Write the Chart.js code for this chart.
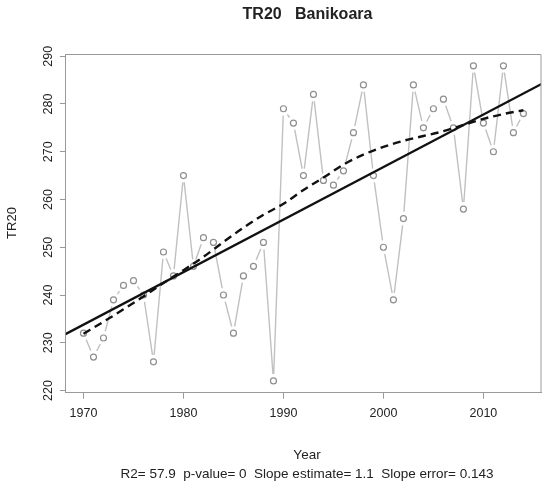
<!DOCTYPE html>
<html><head><meta charset="utf-8">
<script src="https://cdn.jsdelivr.net/npm/chart.js@4/dist/chart.umd.min.js"></script>
<style>
html,body{margin:0;padding:0;background:#fff;overflow:hidden;width:542px;height:483px}
#wrap{position:relative;width:552px;height:483px}
canvas{display:block}
</style>
</head><body><div id="wrap"><canvas id="c" width="552" height="483" style="width:552px;height:483px"></canvas></div>
<script>
// ---- data ----
const years = [1970,1971,1972,1973,1974,1975,1976,1977,1978,1979,
               1980,1981,1982,1983,1984,1985,1986,1987,1988,1989,
               1990,1991,1992,1993,1994,1995,1996,1997,1998,1999,
               2000,2001,2002,2003,2004,2005,2006,2007,2008,2009,
               2010,2011,2012,2013,2014];
const tr20 = [232,227,231,239,242,243,240,226,249,244,
              265,246,252,251,240,232,244,246,251,222,
              279,276,265,282,264,263,266,274,284,265,
              250,239,256,284,275,279,281,275,258,288,
              276,270,288,274,278];
const loessYears = [1970,1972,1974,1976,1978,1980,1982,1984,1986,1988,1990,1992,
                    1994,1996,1998,2000,2002,2004,2006,2008,2010,2012,2014];
const loessValues = [231.9,234.4,237.0,239.7,242.5,245.2,248.0,251.1,254.1,256.8,259.1,262.0,
                     264.6,267.3,269.4,271.0,272.3,273.3,274.3,275.6,276.9,277.9,278.7];
const trendYears = [1968, 2016];
const trendValues = [231.6, 284.4];
const xTickValues = [1970,1980,1990,2000,2010];
const yTickValues = [220,230,240,250,260,270,280,290];
const chartTitle = 'TR20   Banikoara';
const xTitle = 'Year';
const yTitle = 'TR20';
const subTitle = 'R2= 57.9  p-value= 0  Slope estimate= 1.1  Slope error= 0.143';

const pts = (xs, ys) => xs.map((x, i) => ({x: x, y: ys[i]}));
const FONT = "'Liberation Sans', Arial, sans-serif";
const AXIS_GRAY = '#9a9a9a';
const TEXT = '#222';

const boxAndText = {
  id: 'boxAndText',
  afterDraw(chart) {
    const ctx = chart.ctx, a = chart.chartArea;
    ctx.save();
    ctx.strokeStyle = AXIS_GRAY;
    ctx.lineWidth = 1;
    ctx.beginPath();
    ctx.moveTo(a.left, a.top + 0.5);
    ctx.lineTo(a.right, a.top + 0.5);
    ctx.lineTo(a.right, a.bottom);
    ctx.stroke();
    ctx.fillStyle = TEXT;
    ctx.textAlign = 'center';
    ctx.textBaseline = 'middle';
    ctx.font = 'bold 16px ' + FONT;
    ctx.fillText(chartTitle, 307.5, 15);
    ctx.font = '13.5px ' + FONT;
    ctx.fillText(xTitle, 307, 455);
    ctx.font = '13.5px ' + FONT;
    ctx.fillText(subTitle, 307, 474);
    ctx.translate(12, 223);
    ctx.rotate(-Math.PI / 2);
    ctx.font = '13px ' + FONT;
    ctx.fillText(yTitle, 0, 0);
    ctx.restore();
  }
};

new Chart(document.getElementById('c'), {
  type: 'scatter',
  data: {
    datasets: [
      { label: 'trend', data: pts(trendYears, trendValues), showLine: true,
        borderColor: '#111', borderWidth: 2.4, pointRadius: 0, order: 1 },
      { label: 'loess', data: pts(loessYears, loessValues), showLine: true,
        borderColor: '#111', borderWidth: 2.4, borderDash: [8, 5], pointRadius: 0,
        tension: 0.4, cubicInterpolationMode: 'monotone', order: 2 },
      { label: 'points', data: pts(years, tr20), showLine: false,
        pointRadius: 3, pointBorderWidth: 1.2, pointBorderColor: '#8e8e8e',
        pointBackgroundColor: 'rgba(255,255,255,0)', order: 3 },
      { label: 'gap', data: pts(years, tr20), showLine: false,
        pointRadius: 3.5, pointBorderWidth: 7, pointBorderColor: '#fff',
        pointBackgroundColor: '#fff', order: 4 },
      { label: 'TR20', data: pts(years, tr20), showLine: true,
        borderColor: '#c0c0c0', borderWidth: 1.4, pointRadius: 0, order: 5 }
    ]
  },
  options: {
    responsive: false,
    animation: false,
    devicePixelRatio: 1,
    layout: { padding: { top: 54, right: 2.4, left: 0, bottom: 0 } },
    plugins: { legend: { display: false }, tooltip: { enabled: false } },
    scales: {
      x: {
        type: 'linear', min: 1968.24, max: 2015.76,
        afterBuildTicks: s => { s.ticks = xTickValues.map(v => ({ value: v })); },
        afterFit: s => { s.height = 483 - 392.7; },
        ticks: { font: { family: FONT, size: 12.5 }, color: TEXT, padding: 7,
                 maxRotation: 0, autoSkip: false, callback: v => String(v) },
        grid: { drawOnChartArea: false, drawTicks: true, tickLength: 6, color: AXIS_GRAY },
        border: { display: true, color: AXIS_GRAY, width: 1 }
      },
      y: {
        type: 'linear', min: 219.54, max: 290.47,
        afterBuildTicks: s => { s.ticks = yTickValues.map(v => ({ value: v })); },
        afterFit: s => { s.width = 65.9; },
        ticks: { font: { family: FONT, size: 12.5 }, color: TEXT, padding: 1,
                 minRotation: 90, maxRotation: 90, crossAlign: 'center',
                 autoSkip: false, callback: v => String(v) },
        grid: { drawOnChartArea: false, drawTicks: true, tickLength: 6, color: AXIS_GRAY },
        border: { display: true, color: AXIS_GRAY, width: 1 }
      }
    }
  },
  plugins: [boxAndText]
});
</script>
</body></html>
